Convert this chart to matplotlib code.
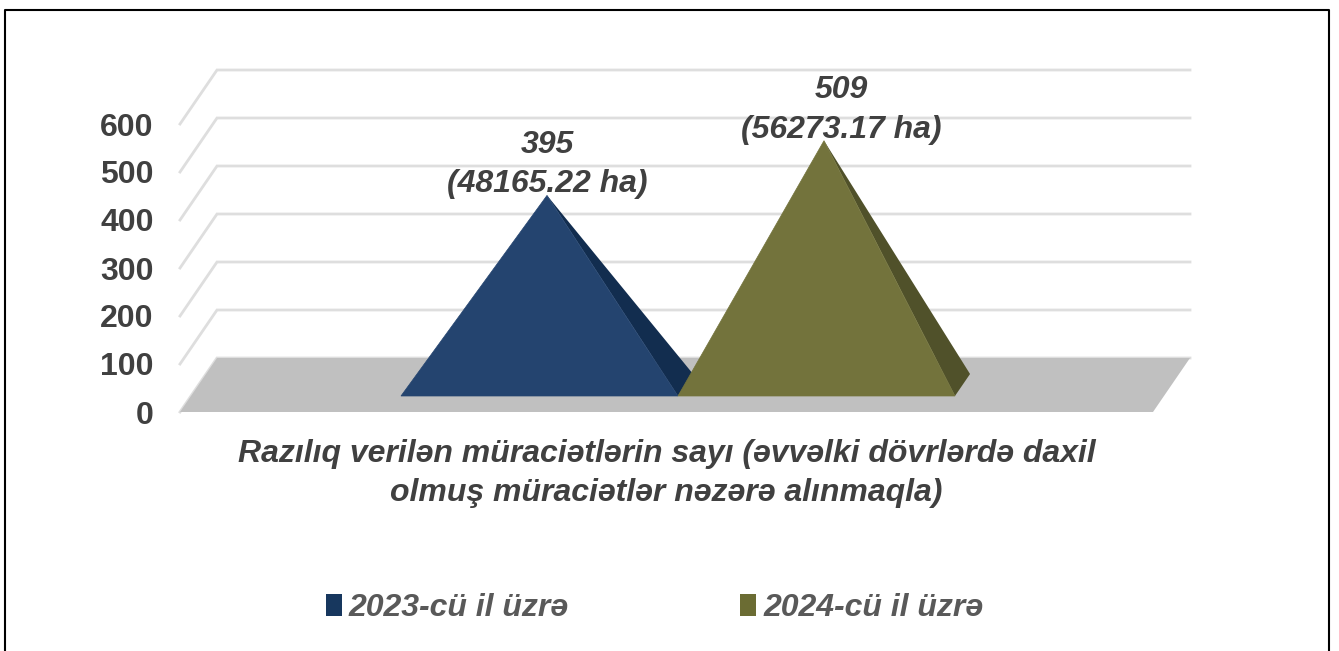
import matplotlib
matplotlib.use("Agg")
import matplotlib.pyplot as plt
from matplotlib.lines import Line2D
from matplotlib.patches import Patch

plt.rcParams['font.family'] = ['Liberation Sans', 'DejaVu Sans']

# data
series_names = ["2023-cü il üzrə", "2024-cü il üzrə"]
counts = [395, 509]
areas = ["48165.22", "56273.17"]
y_ticks = [0, 100, 200, 300, 400, 500, 600]
x_title = "Razılıq verilən müraciətlərin sayı (əvvəlki dövrlərdə daxil\nolmuş müraciətlər nəzərə alınmaqla)"

front_colors = ["#24446F", "#73733C"]
side_colors = ["#122D4F", "#50512A"]
legend_colors = ["#17375E", "#6B6C33"]
label_offsets = [(0, -4), (17, -4)]

W, H = 1339, 651
fig = plt.figure(figsize=(W / 100, H / 100), dpi=100)

# axes = front plane of the 3d box, pixels measured on the reference
left, right, bottom, top = 180, 1153, 412, 124
ax = fig.add_axes([left / W, 1 - bottom / H, (right - left) / W, (bottom - top) / H])
ax.set_xlim(0, 1)
ax.set_ylim(0, 600)
ax.patch.set_visible(False)
for s in ax.spines.values():
    s.set_visible(False)

# how far one full step of depth moves things, in data units
depth_x = 37 / (right - left)
depth_v = 54 / 0.48


def project(x, v, d):
    return x + d * depth_x, v + d * depth_v


# floor
floor = [project(0, 0, 0), project(1, 0, 0), project(1, 0, 1), project(0, 0, 1)]
ax.fill(*zip(*floor), color="#C0C0C0", lw=0, zorder=1, clip_on=False)

# back wall and side wall gridlines
for t in y_ticks:
    x0, y0 = project(0, t, 0)
    x1, y1 = project(0, t, 1)
    x2, y2 = project(1, t, 1)
    grid_zorder = 0.5 if t else 0.9
    ax.plot([x0, x1, x2], [y0, y1, y2], color="#DEDEDE", lw=2, zorder=grid_zorder,
            clip_on=False, solid_joinstyle="miter")

# pyramids
bar_w = 277 / (right - left)
start = 210 / (right - left)
d_front, d_back = 16 / 54, 38 / 54
for i, val in enumerate(counts):
    xl = start + i * bar_w
    xr = xl + bar_w
    apex = project(xl + bar_w / 2, val, (d_front + d_back) / 2)
    a = project(xl, 0, d_front)
    b = project(xr, 0, d_front)
    c = project(xr, 0, d_back)
    ax.fill(*zip(b, c, apex), color=side_colors[i], lw=0, zorder=2 + i, clip_on=False)
    ax.fill(*zip(a, b, apex), color=front_colors[i], lw=0.5, zorder=2 + i, clip_on=False)
    ax.annotate(f"{val}\n({areas[i]} ha)", xy=apex, xytext=label_offsets[i],
                textcoords="offset pixels", ha="center", va="bottom", fontsize=23,
                fontweight="bold", fontstyle="italic", color="#404040", linespacing=1.43,
                zorder=10, annotation_clip=False)

ax.set_yticks(y_ticks)
ax.set_xticks([])
ax.tick_params(axis="y", length=0, pad=19, labelsize=23, labelcolor="#404040")
for lb in ax.get_yticklabels():
    lb.set_fontweight("bold")

ax.set_xlabel(x_title, fontsize=23, fontweight="bold", fontstyle="italic", color="#404040",
              labelpad=19.5, linespacing=1.4)

handles = [Patch(facecolor=legend_colors[i], edgecolor="none") for i in range(2)]
leg = fig.legend(handles, series_names, ncol=2, frameon=False, loc="center",
                 bbox_to_anchor=(654.5 / W, 1 - 608 / H), handlelength=0.5, handleheight=0.7,
                 handletextpad=0.22, columnspacing=5.36,
                 prop={"size": 23, "weight": "bold", "style": "italic"}, labelcolor="#595959")

# outer frame, the bottom edge is cut off in the reference
frame_x = [5 / W, 5 / W, 1328.5 / W, 1328.5 / W]
frame_y = [0, 1 - 10 / H, 1 - 10 / H, 0]
fig.add_artist(Line2D(frame_x, frame_y, color="black", lw=1.5, transform=fig.transFigure))

fig.savefig("out.png", dpi=100, facecolor="white")
